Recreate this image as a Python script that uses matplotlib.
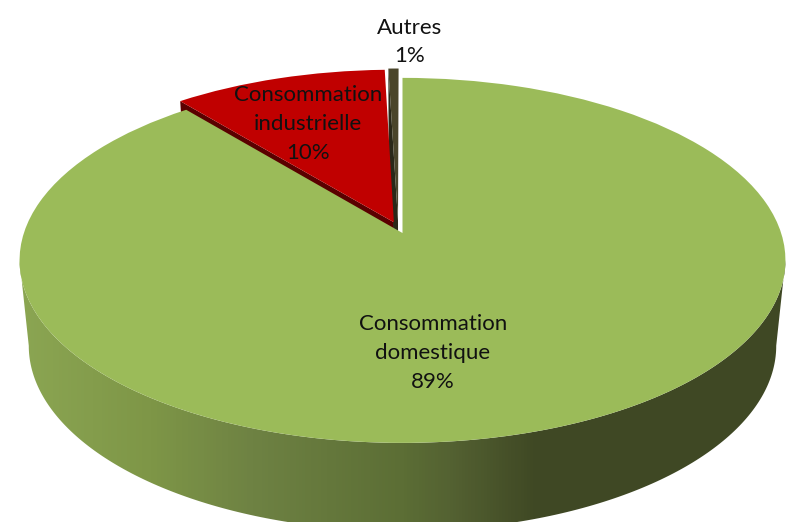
import numpy as np
import matplotlib
matplotlib.use('Agg')
import matplotlib.pyplot as plt
from matplotlib.colors import LinearSegmentedColormap
from matplotlib.patches import Polygon
from matplotlib.transforms import Transform

plt.rcParams['font.family'] = ['Lato', 'DejaVu Sans']

labels = ['Consommation\ndomestique', 'Consommation\nindustrielle', 'Autres']
shares = [89, 10.5, 0.5]
pct_labels = ['89%', '10%', '1%']
explode = [0, 0.065, 0.07]
colors = ['#9BBB59', '#C00000', '#4A452A']
side_colors = [None, '#5A0000', '#2A2818']
label_pos = [(433, 353), (308, 124), (410, 42)]


class Tilt(Transform):
    # flat unit pie -> pixels, with some perspective
    input_dims = 2
    output_dims = 2

    def __init__(self, cx, cy, rx, ry, k):
        super().__init__()
        self.cx, self.cy, self.rx, self.ry, self.k = cx, cy, rx, ry, k

    def transform_non_affine(self, xy):
        xy = np.asarray(xy, dtype=float)
        w = 1 + self.k * xy[:, 1]
        return np.column_stack((self.cx + self.rx * xy[:, 0] / w,
                                self.cy - self.ry * xy[:, 1] / w))


top = Tilt(402.5, 233, 378.6, 178.4, 0.15)
bottom = Tilt(402.5, 318, 369.5, 181, 0.15)

fig = plt.figure(figsize=(7.89, 5.22), dpi=100)
ax = fig.add_axes([0, 0, 1, 1])

wedges, _ = ax.pie(shares, explode=explode, colors=colors, startangle=90,
                   counterclock=False, wedgeprops={'linewidth': 0})
ax.set_aspect('auto')
# Autres sits a bit left of where the radial explode puts it
wedges[2].set_center((-0.012, 0.07))
for w in wedges:
    w.set_transform(top + ax.transData)
    w.set_zorder(3)
wedges[0].set_zorder(5)

# cut faces of the two small slices
for w, c in zip(wedges[1:], side_colors[1:]):
    a = np.radians(w.theta2)
    edge = np.array([w.center, (w.center[0] + np.cos(a), w.center[1] + np.sin(a))])
    pts = np.vstack((top.transform(edge), bottom.transform(edge)[::-1]))
    ax.add_patch(Polygon(pts, closed=True, fc=c, lw=0, zorder=2))

# front wall of the big slice, shaded left to right
t = np.radians(np.linspace(188.6, 351.4, 200))
rim = np.column_stack((np.cos(t), np.sin(t)))
wall = Polygon(np.vstack((top.transform(rim), bottom.transform(rim)[::-1])),
               closed=True, fc='none', lw=0, transform=ax.transData)
ax.add_patch(wall)
shade = LinearSegmentedColormap.from_list('wall', [(0, '#8DA854'), (0.19, '#7E9647'), (0.32, '#6E8243'),
                                                   (0.51, '#5C6E35'), (0.57, '#546232'), (0.68, '#3F4824'),
                                                   (1, '#3F4824')])
im = ax.imshow(np.linspace(0, 1, 789)[None, :], cmap=shade, extent=(0, 789, 522, 0),
               aspect='auto', zorder=4)
im.set_clip_path(wall)

ax.set_xlim(0, 789)
ax.set_ylim(522, 0)
ax.axis('off')

for name, pct, (x, y) in zip(labels, pct_labels, label_pos):
    ax.text(x, y, '{0}\n{1}'.format(name, pct), ha='center', va='center',
            fontsize=16, color='#111111', linespacing=1.55, zorder=6)

fig.savefig('out.png', dpi=100)
